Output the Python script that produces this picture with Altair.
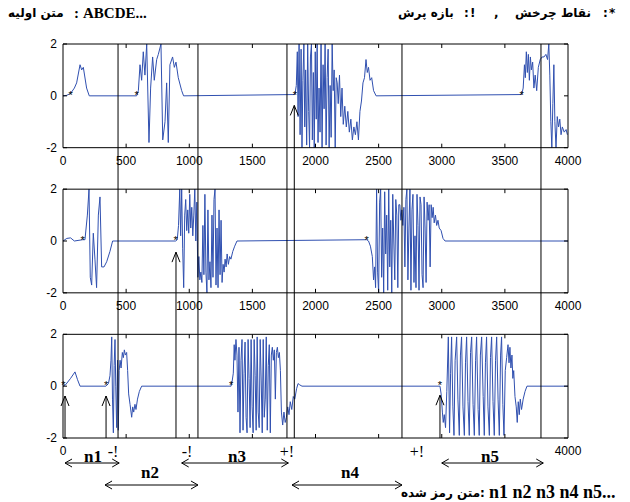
import altair as alt
import pandas as pd

# ---------------- signals (x in samples, value) ----------------
p1_x = [0, 30, 61, 90, 108, 135, 148, 161, 187, 208, 583, 597, 610, 623, 636, 649, 663, 681, 694, 710, 723, 742, 755, 776, 790,
        808, 821, 834, 847, 868, 882, 895, 913, 940, 955,
        1837, 1848, 1856, 1862, 1870, 1878, 1886, 1893, 1900, 1908, 1915, 1922, 1930, 1938, 1946, 1953, 1960, 1968, 1975,
        1983, 1990, 1998, 2006, 2013, 2020, 2028, 2036, 2044, 2052, 2060, 2068, 2076, 2084, 2092, 2100, 2108, 2116, 2124,
        2132, 2140, 2148, 2156, 2164, 2172, 2180, 2190, 2200, 2210, 2220, 2232, 2244, 2256, 2268, 2280, 2292, 2304, 2316,
        2328, 2340, 2352, 2364, 2376, 2388, 2400, 2410, 2420, 2432, 2445, 2460, 2480,
        3633, 3645, 3655, 3662, 3670, 3678, 3686, 3694, 3702, 3710, 3720, 3730, 3740, 3752, 3765, 3780, 3795, 3810, 3825,
        3838, 3848, 3856, 3864, 3872, 3880, 3888, 3896, 3905, 3915, 3925, 3935, 3945, 3955, 3970, 3985, 3995]
p1_v = [0, 0.02, 0.1, 0.3, 0.5, 1.2, 1.0, 1.1, 0.3, 0.0, 0.0, 0.2, 1.2, 0.6, 1.7, 0.8, 2.0, -1.8, 0.3, 1.5, 0.6, 1.4, 1.6, 2.0, -1.7,
        -1.0, 0.5, -1.8, 1.2, 1.5, 1.1, 1.3, 0.7, 0.2, 0.0,
        0.05, 0.4, 1.7, -0.8, 2.0, -1.5, 1.8, -2.0, 0.6, 2.0, -1.2, 1.0, -1.9, 2.0, -0.6, -2.0, 1.5, 2.0, -1.7,
        0.9, -2.0, 1.7, -0.9, 2.0, -1.8, 0.3, -1.4, 2.0, -2.0, 1.2, -0.5, 2.0, -1.9, 0.7, 1.8, -2.0, 0.4, -1.6,
        2.0, 0.2, 1.0, -2.0, 0.7, 0.5, -0.3, 0.8, -0.8, 0.3, -1.1, -0.4, -1.2, -0.6, -1.4, -0.9, -1.7, -1.2, -1.5,
        -1.0, -1.7, -0.6, -0.2, 0.5, 0.7, 1.4, 0.9, 1.1, 0.6, 0.7, 0.2, 0.0,
        0.05, 0.3, 1.2, 0.7, 1.7, 0.9, 1.6, 0.6, 1.5, 1.0, 1.3, 0.3, 0.8, 0.2, 1.1, 1.4, 1.5, 1.5, 1.6,
        1.4, 2.0, 0.8, -1.0, -2.0, -0.3, 1.2, -1.0, -2.0, -0.8, -1.2, -0.9, -1.5, -1.2, -1.4, -1.3, -1.5]

p2_x = [0, 30, 60, 90, 156, 174, 193, 206, 216, 227, 240, 253, 266, 280, 293, 306, 325, 346, 372, 393,
        892, 905, 915, 925, 932, 940, 948, 956, 964, 972, 980, 988, 996, 1004, 1012, 1020, 1028, 1036, 1044, 1052, 1060,
        1068, 1076, 1084, 1092, 1100, 1108, 1116, 1124, 1132, 1140, 1148, 1156, 1164, 1172, 1180, 1188, 1196, 1204, 1212,
        1220, 1228, 1236, 1244, 1252, 1260, 1268, 1276, 1284, 1292, 1300, 1310, 1320, 1330, 1345, 1360, 1378,
        2405, 2420, 2435, 2450, 2460, 2468, 2476, 2484, 2492, 2500, 2508, 2516, 2524, 2532, 2540, 2548, 2556, 2564, 2572,
        2580, 2588, 2596, 2604, 2612, 2620, 2628, 2636, 2644, 2652, 2660, 2668, 2676, 2684, 2692, 2700, 2708, 2716, 2724,
        2732, 2740, 2748, 2756, 2764, 2772, 2780, 2788, 2796, 2804, 2812, 2820, 2828, 2836, 2844, 2852, 2860, 2868, 2876,
        2884, 2892, 2900, 2908, 2916, 2924, 2932, 2940, 2950, 2960, 2970, 2980, 2995, 3010, 3026, 4000]
p2_v = [0, 0.1, 0.12, 0.0, 0.05, 0.05, 1.0, 2.0, -1.4, -1.7, 0.3, -0.7, -1.8, 1.0, 1.7, -1.0, -1.0, -0.8, -0.4, 0.0,
        0.0, 0.05, 0.6, 2.0, 0.2, 2.0, -0.3, -1.8, 1.0, 1.6, 0.4, 1.2, 0.3, 1.8, 0.5, 1.3, 0.2, 1.0, 2.0, 0.0, 1.5,
        -1.4, -0.6, -1.5, -1.2, -1.6, 0.6, -1.3, 1.8, -1.2, -2.0, 1.2, -1.5, -0.8, -1.8, 1.0, -1.4, 1.6, 2.0, -1.7,
        0.5, -1.8, 1.2, -1.3, 0.8, -1.6, -0.9, -1.2, -0.7, -1.0, -0.5, -0.9, -0.6, -0.7, -0.4, -0.2, 0.0,
        0.05, 0.0, -0.2, -0.6, -1.5, -1.0, -1.8, 2.0, -1.2, -2.0, 1.5, 2.0, -1.4, 0.5, -2.0, 1.9, -0.5, 1.0, -1.9,
        2.0, -1.0, 0.8, -2.0, 1.8, 0.0, -1.5, 1.6, 1.0, -1.8, 1.4, 1.4, 0.8, 1.2, 0.6, 1.3, -1.0, 1.6, 2.0,
        -1.5, 0.5, 2.0, -1.9, 1.2, 1.8, -1.6, 0.2, -1.8, 1.8, 0.6, -1.9, 1.7, 1.4, -1.3, -1.8, 1.7, 0.5, -1.6,
        1.5, 0.8, 1.4, -1.0, 1.4, 0.9, 1.3, 0.7, 1.0, 0.6, 0.8, 0.5, 0.4, 0.1, 0.0, 0.0]

p3_x = [0, 20, 60, 95, 115, 135, 340, 360, 372, 380, 386, 392, 399, 405, 412, 418, 425, 432, 438, 445, 452, 460, 470,
        478, 486, 494, 504, 512, 520, 531, 544, 552, 560, 570, 578, 590, 605, 623,
        1331, 1340, 1349, 1356, 1362, 1370, 1378, 1386, 1394, 1402, 1410, 1418, 1426, 1434, 1442, 1450, 1458, 1466, 1474,
        1482, 1490, 1498, 1506, 1514, 1522, 1530, 1538, 1546, 1554, 1562, 1570, 1578, 1586, 1594, 1602, 1610, 1618, 1626,
        1634, 1642, 1650, 1658, 1666, 1674, 1682, 1690, 1698, 1706, 1714, 1722, 1730, 1740, 1750, 1760, 1770, 1780, 1790,
        1800, 1812, 1824, 1836, 1850, 1862, 1875, 1893,
        2986, 2995, 3005, 3012, 3020, 3030, 3040, 3052, 3062, 3070, 3078, 3088, 3097, 3106, 3118, 3128, 3139, 3148, 3157,
        3168, 3179, 3188, 3197, 3208, 3218, 3228, 3237, 3248, 3258, 3268, 3276, 3288, 3297, 3306, 3316, 3328, 3337, 3346,
        3355, 3366, 3377, 3386, 3395, 3406, 3416, 3426, 3435, 3446, 3456, 3466, 3474, 3484, 3493, 3503, 3514, 3525, 3533,
        3540, 3548, 3556, 3563, 3570, 3580, 3590, 3598, 3606, 3614, 3622, 3632, 3645, 3660, 3675, 4000]
p3_v = [0, 0.05, 0.3, 0.55, 0.25, 0.0, 0.0, 0.1, 0.4, 1.0, 1.9, -0.5, -1.8, 0.8, 1.8, 0.0, -1.6, 1.0, -1.7, 0.6, 1.0, 0.7, 1.3,
        1.1, 1.4, 1.2, 1.3, 0.6, -0.3, -0.7, -1.2, -0.8, -1.0, -0.7, -0.9, -0.5, -0.2, 0.0,
        0.0, 0.2, 0.5, 1.6, 1.0, 1.8, 1.2, -1.0, 1.5, -1.8, 1.0, 1.8, -1.7, 0.5, 1.7, -1.2, -1.8, 1.8, 0.3,
        -1.6, 1.8, -0.8, -1.8, 1.8, 0.4, -1.7, 1.9, -1.0, -1.6, 1.8, 0.2, -1.8, 1.8, -1.2, -0.5, 1.9, -1.7, 0.8,
        1.6, -1.8, 1.2, 1.5, 1.0, 1.4, -0.5, 1.3, 1.5, 1.1, 1.3, 0.6, -1.0, -1.5, -1.0, -1.4, -1.2, -0.8, -1.1,
        -0.6, -0.9, -0.4, -0.5, -0.1, 0.1, 0.05, 0.0,
        0.0, -0.3, -1.0, -1.4, -1.1, -1.6, -0.2, 1.9, -1.8, 0.5, 1.9, -0.8, -1.9, 1.0, 1.9, -0.5, -1.9, 1.2, 1.9,
        -0.8, -1.9, 0.9, 1.9, -0.6, -1.9, 1.3, 1.9, -0.7, -1.9, 1.0, 1.9, -0.9, -1.9, 1.2, 1.9, -0.4, -1.9, 0.9,
        1.9, -0.8, -1.9, 1.1, 1.9, -0.6, -1.9, 1.0, 1.9, -0.5, -1.9, 1.2, 1.9, -0.7, -1.9, 0.6, 1.1, 1.6, 0.9,
        1.5, 0.7, 1.2, 0.3, 0.6, -0.4, -0.8, -1.4, -0.6, -1.1, -0.5, -0.9, -0.5, -0.2, 0.0, 0.0]

# turning points (*) per panel
star_x = [61, 583, 1837, 3633, 156, 892, 2405, 3, 341, 1331, 2986]
star_panel = [1, 1, 1, 1, 2, 2, 2, 3, 3, 3, 3]

# long vertical dividers (through all panels)
div_x = [436, 1069, 1774, 2685, 3786]
# jump arrows: x, panel where the arrow head is, head value
jump_x = [1832, 895, 16, 341, 2986]
jump_panel = [1, 2, 3, 3, 3]
jump_v = [-0.37, -0.43, -0.38, -0.38, -0.35]

# code-word spans below the chart
span_label = ["n1", "n2", "n3", "n4", "n5"]
span_from = [16, 333, 940, 1814, 3000]
span_to = [445, 1069, 1785, 2685, 3804]
span_row = [1, 2, 1, 2, 1]
span_label_x = [238, 689, 1378, 2273, 3382]

mark_text = ["-!", "-!", "+!", "+!"]
mark_x = [396, 982, 1774, 2804]

x_ticks = [0, 500, 1000, 1500, 2000, 2500, 3000, 3500, 4000]
y_ticks = [-2, 0, 2]
panel3_x_labels = [0, 4000]

# header / footer text pieces, in visual left-to-right order
top_left_parts = ["متن اولیه", ":", "ABCDE..."]
top_right_parts = ["بازه پرش", ":", "!", ",", "نقاط چرخش", ":", "*"]
bottom_parts = ["متن رمز شده", ":", "n1 n2 n3 n4 n5..."]

BASE = {1: 11.2, 2: 5.6, 3: 0.0}
W, H = 505, 394
YMIN, YMAX = -2.0, 13.2
PXY = H / (YMAX - YMIN)      # px per y unit
PXX = W / 4000.0             # px per x unit


def py(px_below_bottom):
    return YMIN - px_below_bottom / PXY


def px_x(px):
    return (px - 63) / PXX


xs = alt.Scale(domain=[0, 4000], nice=False, zero=False)
ys = alt.Scale(domain=[YMIN, YMAX], nice=False, zero=False)
X = lambda f="x": alt.X(f"{f}:Q", scale=xs, axis=None)
Y = lambda f="y": alt.Y(f"{f}:Q", scale=ys, axis=None)

# ---------- build tables ----------
rows = []
for p, xx, vv in [(1, p1_x, p1_v), (2, p2_x, p2_v), (3, p3_x, p3_v)]:
    for a, b in zip(xx, vv):
        rows.append({"panel": p, "x": a, "y": b + BASE[p]})
sig = pd.DataFrame(rows)

frames = pd.DataFrame([{"x": 0, "x2": 4000, "y": BASE[p] - 2, "y2": BASE[p] + 2} for p in (1, 2, 3)])

tl_y = 4 / PXY
tl_x = 4 / PXX
ticks = []
for p in (1, 2, 3):
    b = BASE[p]
    for t in x_ticks[1:-1]:
        ticks.append({"x": t, "x2": t, "y": b - 2, "y2": b - 2 + tl_y})
        ticks.append({"x": t, "x2": t, "y": b + 2, "y2": b + 2 - tl_y})
    for t in y_ticks:
        ticks.append({"x": 0, "x2": tl_x, "y": b + t, "y2": b + t})
        ticks.append({"x": 4000 - tl_x, "x2": 4000, "y": b + t, "y2": b + t})
ticks = pd.DataFrame(ticks)

xlab = []
for p in (1, 2):
    for t in x_ticks:
        xlab.append({"x": t, "y": BASE[p] - 2, "t": str(t)})
for t in panel3_x_labels:
    xlab.append({"x": t, "y": BASE[3] - 2, "t": str(t)})
xlab = pd.DataFrame(xlab)

ylab = pd.DataFrame([{"x": 0, "y": BASE[p] + t, "t": str(t)} for p in (1, 2, 3) for t in y_ticks])

stars = pd.DataFrame({"x": star_x, "y": [BASE[p] for p in star_panel]})

divs = pd.DataFrame({"x": div_x, "y": [YMAX] * len(div_x), "y2": [YMIN] * len(div_x)})
jumps = pd.DataFrame({"x": jump_x, "y": [BASE[p] + v for p, v in zip(jump_panel, jump_v)],
                      "y2": [YMIN] * len(jump_x)})

row_y = {1: py(25), 2: py(47)}
spans = pd.DataFrame({"x": span_from, "x2": span_to, "y": [row_y[r] for r in span_row]})
lheads = pd.DataFrame({"x": span_from, "y": [row_y[r] for r in span_row]})
rheads = pd.DataFrame({"x": span_to, "y": [row_y[r] for r in span_row]})
slabels = pd.DataFrame({"x": span_label_x, "t": span_label,
                        "y": [py(19) if r == 1 else py(35) for r in span_row]})
marks = pd.DataFrame({"x": mark_x, "t": mark_text, "y": [py(14)] * len(mark_x)})

TOP_Y = YMAX + 31 / PXY
BOT_Y = py(55)
# pieces: pixel anchor x (left edge), style kind
tl_df = pd.DataFrame({"x": [px_x(8), px_x(74), px_x(83)], "y": [TOP_Y] * 3, "t": top_left_parts,
                      "kind": ["fa", "punct", "latin"]})
tr_df = pd.DataFrame({"x": [px_x(398), px_x(464), px_x(470), px_x(494), px_x(515), px_x(603), px_x(609)],
                      "y": [TOP_Y] * 7, "t": top_right_parts,
                      "kind": ["fa", "punct", "punct", "punct", "fa", "punct", "punct"]})
bt_df = pd.DataFrame({"x": [px_x(401), px_x(480), px_x(489)], "y": [BOT_Y] * 3, "t": bottom_parts,
                      "kind": ["fa", "punct", "latin"]})

BLUE = "#3050b0"
SERIF = "Liberation Serif"
SANS = "Liberation Sans"
FA = "DejaVu Sans"


def piece_layer(df, kind, font, size, weight="bold"):
    sub = df[df["kind"] == kind]
    return alt.Chart(sub).mark_text(
        font=font, fontSize=size, fontWeight=weight, baseline="middle", align="left", color="black"
    ).encode(x=X(), y=Y(), text="t:N")


layers = [
    alt.Chart(sig).mark_line(color=BLUE, strokeWidth=1, interpolate="linear").encode(
        x=X(), y=Y(), detail="panel:N", order="x:Q"),
    alt.Chart(frames).mark_rect(fill=None, stroke="black", strokeWidth=1).encode(
        x=X(), x2="x2:Q", y=Y(), y2="y2:Q"),
    alt.Chart(ticks).mark_rule(color="black", strokeWidth=1).encode(x=X(), x2="x2:Q", y=Y(), y2="y2:Q"),
    alt.Chart(xlab).mark_text(font=SANS, fontSize=12, baseline="middle", align="center", dy=13, color="black").encode(
        x=X(), y=Y(), text="t:N"),
    alt.Chart(ylab).mark_text(font=SANS, fontSize=12, baseline="middle", align="right", dx=-6, color="black").encode(
        x=X(), y=Y(), text="t:N"),
    alt.Chart(stars).mark_text(text="*", font=SANS, fontSize=11, baseline="middle", align="center", color="black").encode(
        x=X(), y=Y()),
    alt.Chart(divs).mark_rule(color="black", strokeWidth=1).encode(x=X(), y=Y(), y2="y2:Q"),
    alt.Chart(jumps).mark_rule(color="black", strokeWidth=1).encode(x=X(), y=Y(), y2="y2:Q"),
    alt.Chart(jumps).mark_point(shape="M-1.6,4L0,0L1.6,4", size=25, filled=False, color="black",
                                strokeWidth=1, opacity=1).encode(x=X(), y=Y()),
    alt.Chart(spans).mark_rule(color="black", strokeWidth=1).encode(x=X(), x2="x2:Q", y=Y()),
    alt.Chart(lheads).mark_point(shape="M2.8,-1.6L0,0L2.8,1.6", size=25, filled=False, color="black",
                                 strokeWidth=1, opacity=1).encode(x=X(), y=Y()),
    alt.Chart(rheads).mark_point(shape="M-2.8,-1.6L0,0L-2.8,1.6", size=25, filled=False, color="black",
                                 strokeWidth=1, opacity=1).encode(x=X(), y=Y()),
    alt.Chart(slabels).mark_text(font=SERIF, fontSize=17, fontWeight="bold", baseline="middle", align="center",
                                 color="black").encode(x=X(), y=Y(), text="t:N"),
    alt.Chart(marks).mark_text(font=SERIF, fontSize=16, baseline="middle", align="center", color="black").encode(
        x=X(), y=Y(), text="t:N"),
    piece_layer(tl_df, "fa", FA, 12),
    piece_layer(tl_df, "punct", SERIF, 15),
    piece_layer(tl_df, "latin", SERIF, 15),
    piece_layer(tr_df, "fa", FA, 12),
    piece_layer(tr_df, "punct", FA, 12),
    piece_layer(bt_df, "fa", FA, 12),
    piece_layer(bt_df, "punct", FA, 12),
    piece_layer(bt_df, "latin", SERIF, 18),
]

chart = alt.layer(*layers).properties(
    width=W, height=H,
    autosize=alt.AutoSizeParams(type="none"),
    padding={"left": 63, "top": 44, "right": 62, "bottom": 64},
    background="white",
).configure_view(stroke=None)

chart.save("out.html", embed_options={"renderer": "svg", "actions": False})
